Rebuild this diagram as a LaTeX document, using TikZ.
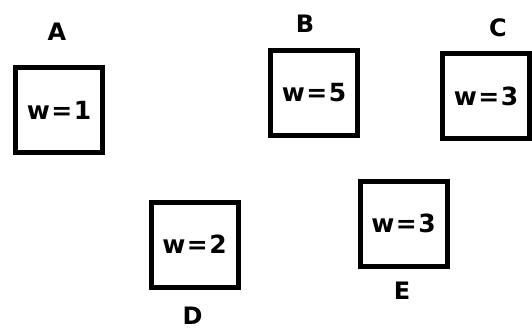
\documentclass[tikz,border=0pt]{standalone}
\usepackage{fontspec}
\setmainfont{DejaVu Sans}
\begin{document}
\begin{tikzpicture}[x=1pt,y=-1pt,
  wbox/.style={draw=black,line width=5pt,minimum width=87pt,minimum height=85pt,inner sep=0pt,
    font=\fontsize{25}{25}\selectfont\bfseries\addfontfeature{LetterSpace=6}},
  lbl/.style={font=\fontsize{24}{24}\selectfont\bfseries,inner sep=0pt}]
\useasboundingbox (0,0) rectangle (532,329);
% weighted boxes
\node[wbox] (A) at (59,110) {w=1};
\node[wbox] (B) at (314,93) {w=5};
\node[wbox,minimum width=87.5pt] (C) at (486,96) {w=3};
\node[wbox] (D) at (194.5,244.5) {w=2};
\node[wbox] (E) at (403.5,223.5) {w=3};
% box names
\node[lbl] (la) at (57,32) {A};
\node[lbl] (lb) at (305,24) {B};
\node[lbl] (lc) at (498,28) {C};
\node[lbl] (ld) at (192.5,315.5) {D};
\node[lbl] (le) at (402,291) {E};
\end{tikzpicture}
\end{document}
